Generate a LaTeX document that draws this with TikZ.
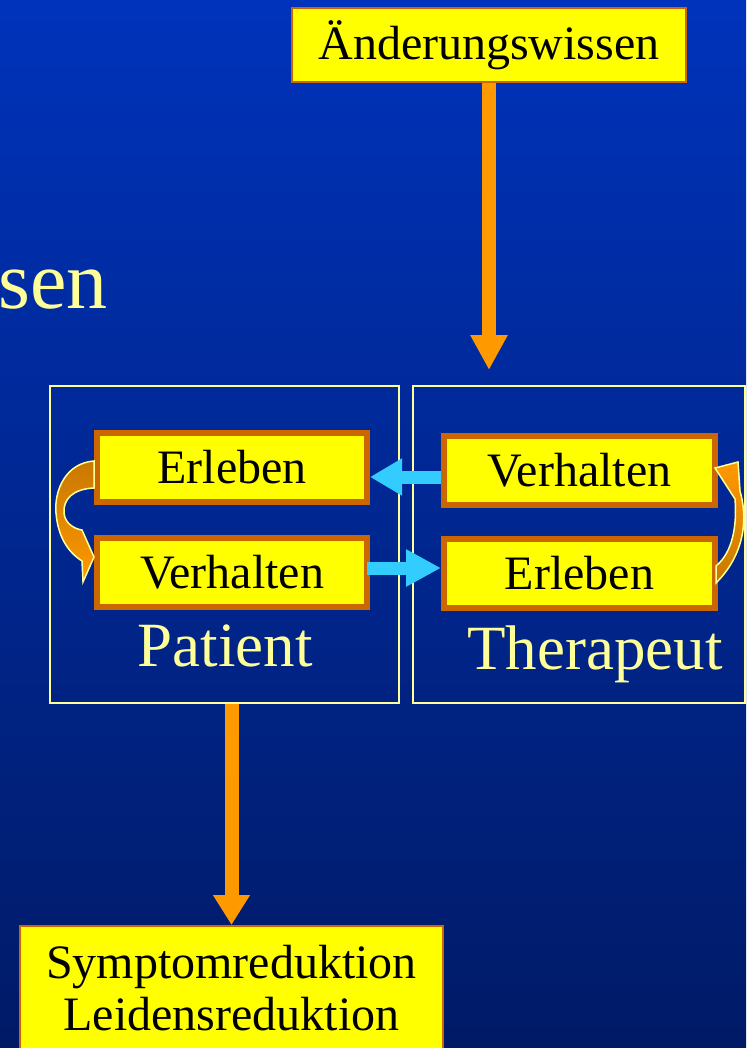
\documentclass[tikz,border=0pt]{standalone}
\usepackage{fontspec}
\setmainfont{Liberation Serif}
\usetikzlibrary{arrows.meta}
\definecolor{bgtop}{HTML}{0033BB}
\definecolor{bgbot}{HTML}{001A66}
\definecolor{boxfill}{HTML}{FFFF00}
\definecolor{boxrim}{HTML}{CC6600}
\definecolor{paleyel}{HTML}{FFFF99}
\definecolor{flow}{HTML}{FF9900}
\definecolor{flowdark}{HTML}{C87800}
\definecolor{link}{HTML}{33CCFF}

\begin{document}
\begin{tikzpicture}[x=1pt,y=-1pt,
  inbox/.style={draw=boxrim, fill=boxfill, line width=6pt,
    minimum width=270pt, minimum height=69pt, inner sep=0pt,
    font=\fontsize{48}{52}\selectfont},
  endbox/.style={draw=boxrim, fill=boxfill, line width=1.5pt, inner sep=0pt,
    font=\fontsize{48}{52}\selectfont},
  roleframe/.style={draw=paleyel, line width=1.5pt, inner sep=0pt},
  roletext/.style={text=paleyel, inner sep=0pt, font=\fontsize{63}{70}\selectfont},
  bigflow/.style={draw=flow, line width=14pt},
  linkarrow/.style={draw=link, line width=13pt},
  loopshape/.style={draw=paleyel, line width=1.5pt}
]
% page and background
\useasboundingbox (0,0) rectangle (746,1048);
\clip (0,0) rectangle (746,1048);
\shade[top color=bgtop, bottom color=bgbot] (0,0) rectangle (746,1048);

% title fragment running off the left edge
\node[roletext, font=\fontsize{82}{90}\selectfont, anchor=base west] (title) at (-2,308) {sen};

% source and result boxes
\node[endbox, minimum width=394pt, minimum height=74pt] (know) at (489,45) {Änderungswissen};
\node[endbox, minimum width=423pt, minimum height=124pt, align=center, anchor=north]
  (relief) at (231.5,925) {Symptomreduktion\\Leidensreduktion};

% inner boxes
\node[inbox] (le) at (232,467.5) {Erleben};
\node[inbox] (lv) at (232,572.5) {Verhalten};
\node[inbox, minimum width=271pt] (rv) at (579.5,470.5) {Verhalten};
\node[inbox, minimum width=271pt] (re) at (579.5,573) {Erleben};

% frames
\node[roleframe, minimum width=349pt, minimum height=317pt] (pframe) at (224.5,544.5) {};
\node[roleframe, minimum width=332pt, minimum height=317pt] (tframe) at (579,544.5) {};

% vertical flow arrows
\coordinate (knowtip) at (489,370);
\draw[bigflow, -{Triangle[width=35pt,length=35pt]}] (know.south) -- (knowtip);
\draw[bigflow, -{Triangle[width=35pt,length=30pt]}] (relief.north |- pframe.south) -- (relief.north);

% exchange arrows
\draw[linkarrow, -{Triangle[width=35pt,length=32pt]}] ([yshift=-6.5pt]rv.west) -- ([yshift=-9.5pt]le.east);
\draw[linkarrow, -{Triangle[width=35pt,length=35pt]}] ([yshift=4.5pt, xshift=-3pt]lv.east) -- ([yshift=5pt]re.west);

% curved arrows inside the frames
\shadedraw[loopshape, top color=flowdark, bottom color=flow]
  (94,461) .. controls (66,463) and (54,490) .. (56,513)
  .. controls (58,537) and (68,552) .. (82,561)
  -- (83,582) -- (94,557) -- (82,530)
  .. controls (75,529) and (65,524) .. (64,513)
  .. controls (63,500) and (72,489) .. (94,488) -- cycle;
\shadedraw[loopshape, top color=flow, bottom color=flowdark]
  (715,468) -- (738,462) -- (740,491)
  .. controls (747,515) and (747,552) .. (716,583)
  -- (716,566)
  .. controls (733,552) and (737,525) .. (735,499) -- cycle;

% frame labels
\node[roletext, anchor=base] (ptext) at (225,666) {Patient};
\node[roletext, anchor=base] (ttext) at (595,669) {Therapeut};
\end{tikzpicture}
\end{document}
